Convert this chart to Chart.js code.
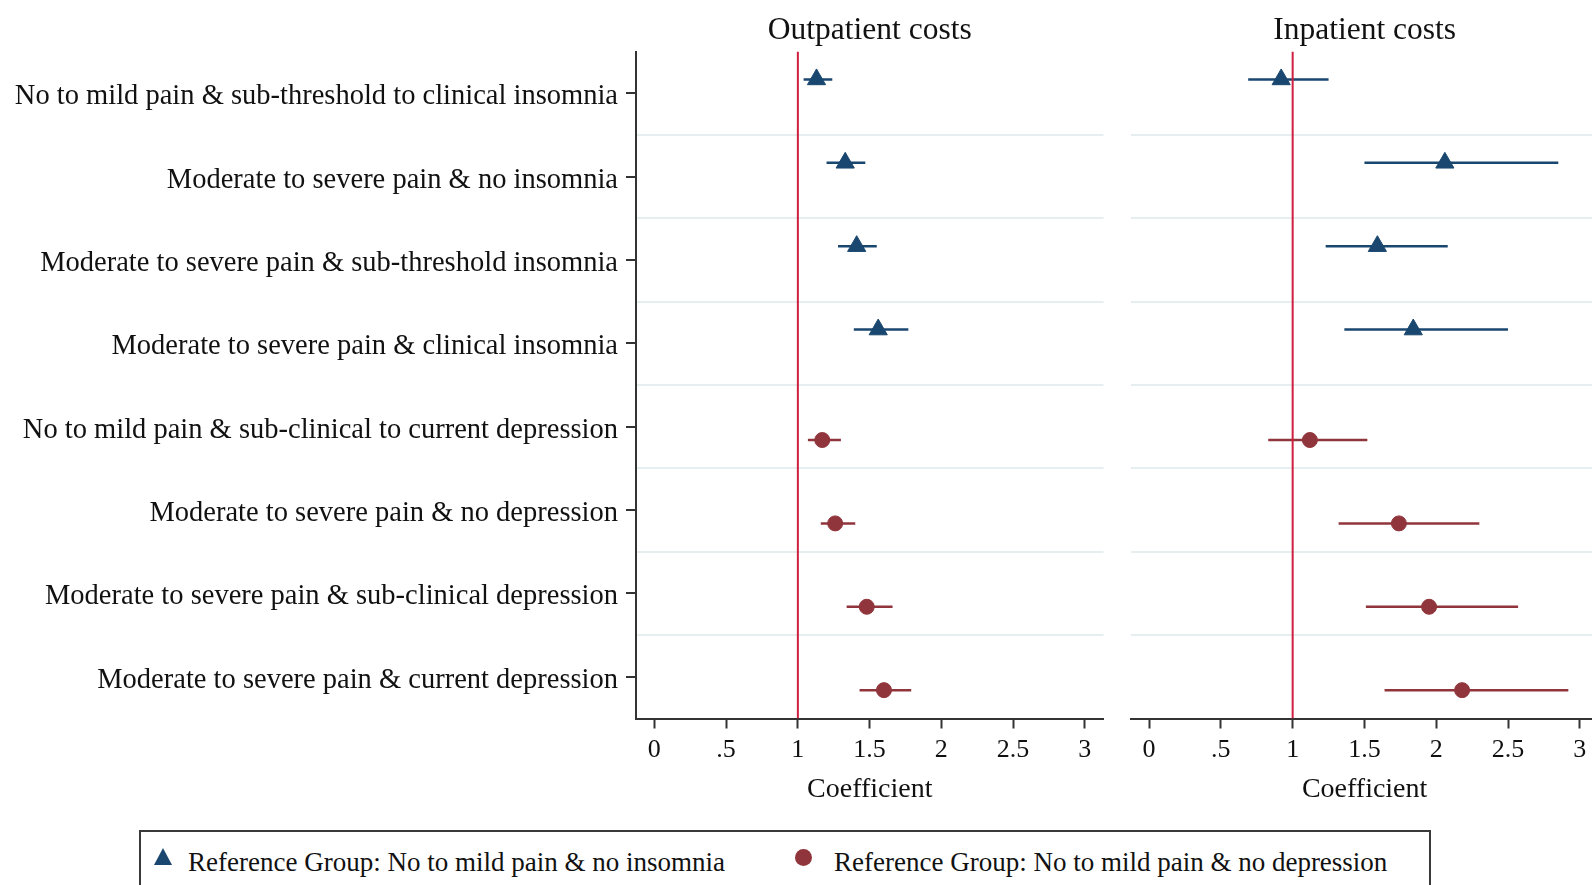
<!DOCTYPE html>
<html>
<head>
<meta charset="utf-8">
<title>Outpatient and inpatient cost coefficients</title>
<script src="https://cdn.jsdelivr.net/npm/chart.js@4.4.1/dist/chart.umd.min.js"></script>
<style>
  html, body { margin: 0; padding: 0; width: 1592px; height: 885px; overflow: hidden; background: #fff; }
  canvas { position: absolute; top: 0; }
  #outCanvas { left: 0; }
  #inCanvas { left: 1110px; }
  .leg { position: absolute; font-family: "Liberation Serif", "Times New Roman", serif; font-size: 27px; line-height: 32px; color: #111; white-space: nowrap; }
  #legendBox { position: absolute; left: 139px; top: 830px; width: 1292px; height: 90px; border: 2px solid #3a3a3a; box-sizing: border-box; }
  #legTri { position: absolute; left: 154px; top: 848px; width: 18px; height: 17px; clip-path: polygon(50% 0, 100% 100%, 0 100%); }
  #legDot { position: absolute; left: 795px; top: 849px; width: 17px; height: 17px; border-radius: 50%; }
</style>
</head>
<body>
<canvas id="outCanvas" width="1115" height="820"></canvas>
<canvas id="inCanvas" width="500" height="820"></canvas>
<div id="legendBox"></div>
<div id="legTri"></div>
<div class="leg" id="legText1" style="left:188px; top:846px;"></div>
<div id="legDot"></div>
<div class="leg" id="legText2" style="left:834px; top:846px;"></div>

<script>
// ---- data ----
const categories = [
  'No to mild pain & sub-threshold to clinical insomnia',
  'Moderate to severe pain & no insomnia',
  'Moderate to severe pain & sub-threshold insomnia',
  'Moderate to severe pain & clinical insomnia',
  'No to mild pain & sub-clinical to current depression',
  'Moderate to severe pain & no depression',
  'Moderate to severe pain & sub-clinical depression',
  'Moderate to severe pain & current depression'
];
const insomniaRows = [0, 1, 2, 3];
const depressionRows = [4, 5, 6, 7];

const xTickValues = [0, 0.5, 1, 1.5, 2, 2.5, 3];
const xTickLabels = ['0', '.5', '1', '1.5', '2', '2.5', '3'];
const referenceValue = 1;

const panelTitles = ['Outpatient costs', 'Inpatient costs'];
const axisTitle = 'Coefficient';
const legendLabels = [
  'Reference Group: No to mild pain & no insomnia',
  'Reference Group: No to mild pain & no depression'
];

// Outpatient costs
const outInsomniaCoef = [1.13, 1.33, 1.41, 1.56];
const outInsomniaLow  = [1.04, 1.20, 1.28, 1.39];
const outInsomniaHigh = [1.24, 1.47, 1.55, 1.77];
const outDepressionCoef = [1.17, 1.26, 1.48, 1.60];
const outDepressionLow  = [1.07, 1.16, 1.34, 1.43];
const outDepressionHigh = [1.30, 1.40, 1.66, 1.79];

// Inpatient costs
const inInsomniaCoef = [0.92, 2.06, 1.59, 1.84];
const inInsomniaLow  = [0.69, 1.50, 1.23, 1.36];
const inInsomniaHigh = [1.25, 2.85, 2.08, 2.50];
const inDepressionCoef = [1.12, 1.74, 1.95, 2.18];
const inDepressionLow  = [0.83, 1.32, 1.51, 1.64];
const inDepressionHigh = [1.52, 2.30, 2.57, 2.92];

// ---- styling ----
const NAVY = '#1a476f';
const MAROON = '#90353b';
const REF_RED = '#cf1f40';
const GRID = '#e6eef0';
const AXIS = '#333333';
const TEXT = '#111111';
const SERIF = '"Liberation Serif", "Times New Roman", serif';
const X_MIN = -0.128, X_MAX = 3.13;
const Y_MIN = -0.5, Y_MAX = categories.length - 0.5;

const insomniaStyle = { color: NAVY, pointStyle: 'triangle', radius: 10.5, offset: -0.165 };
const depressionStyle = { color: MAROON, pointStyle: 'circle', radius: 7.5, offset: 0.16 };

function buildDatasets(seriesList) {
  const markers = seriesList.map(s => ({
    data: s.rows.map((r, i) => ({ x: s.coef[i], y: r + s.style.offset })),
    pointStyle: s.style.pointStyle,
    pointRadius: s.style.radius,
    backgroundColor: s.style.color,
    borderColor: s.style.color,
    borderWidth: 1,
    showLine: false,
    order: 0
  }));
  const refLine = {
    data: [{ x: referenceValue, y: Y_MIN }, { x: referenceValue, y: Y_MAX }],
    showLine: true,
    borderColor: REF_RED,
    borderWidth: 2,
    pointRadius: 0,
    order: 1
  };
  const bars = [];
  seriesList.forEach(s => {
    s.rows.forEach((r, i) => {
      bars.push({
        data: [{ x: s.low[i], y: r + s.style.offset }, { x: s.high[i], y: r + s.style.offset }],
        showLine: true,
        borderColor: s.style.color,
        borderWidth: 2.5,
        pointRadius: 0,
        order: 2
      });
    });
  });
  return [...markers, refLine, ...bars];
}

function yTickList() {
  const list = [];
  for (let k = -1; k <= 2 * categories.length - 1; k++) list.push({ value: k / 2 });
  return list;
}
const isRowTick = v => Number.isInteger(v);
const isDividerTick = v => !Number.isInteger(v) && v > Y_MIN && v < Y_MAX;

function makePanel(canvasId, title, seriesList, withCategoryAxis, padding) {
  const ctx = document.getElementById(canvasId).getContext('2d');
  return new Chart(ctx, {
    type: 'scatter',
    data: { datasets: buildDatasets(seriesList) },
    options: {
      responsive: false,
      animation: false,
      events: [],
      layout: { padding },
      plugins: { legend: { display: false }, tooltip: { enabled: false } },
      scales: {
        x: {
          type: 'linear', position: 'bottom', min: X_MIN, max: X_MAX,
          afterBuildTicks: s => { s.ticks = xTickValues.map(v => ({ value: v })); },
          afterFit: s => { s.height = 101.5; },
          ticks: {
            autoSkip: false, maxRotation: 0, padding: 6, color: TEXT,
            font: { family: SERIF, size: 26 },
            callback: (v, i) => xTickLabels[i]
          },
          grid: { drawOnChartArea: false, tickLength: 10, tickWidth: 2, tickColor: AXIS },
          border: { display: true, color: AXIS, width: 2 },
          title: {
            display: true, text: axisTitle, color: TEXT,
            font: { family: SERIF, size: 28 }, padding: { top: 0, bottom: 14 }
          }
        },
        xTop: {
          type: 'linear', position: 'top', display: true, min: X_MIN, max: X_MAX,
          afterFit: s => { s.height = 51.5; },
          ticks: { display: false },
          grid: { display: false },
          border: { display: false },
          title: {
            display: true, text: title, color: TEXT,
            font: { family: SERIF, size: 31.5 }, padding: { top: 12, bottom: 0 }
          }
        },
        y: {
          type: 'linear', position: 'left', reverse: true, min: Y_MIN, max: Y_MAX,
          afterBuildTicks: s => { s.ticks = yTickList(); },
          afterFit: s => { s.width = withCategoryAxis ? 636 : 0; },
          ticks: {
            display: withCategoryAxis, autoSkip: false, padding: 8, labelOffset: 3.5, color: TEXT,
            font: { family: SERIF, size: 28.5 },
            callback: v => (isRowTick(v) ? categories[v] : '')
          },
          grid: {
            drawOnChartArea: true,
            drawTicks: withCategoryAxis,
            lineWidth: 2,
            color: c => (isDividerTick(c.tick.value) ? GRID : 'rgba(0,0,0,0)'),
            tickLength: 10, tickWidth: 2,
            tickColor: c => (isRowTick(c.tick.value) ? AXIS : 'rgba(0,0,0,0)')
          },
          border: { display: withCategoryAxis, color: AXIS, width: 2 }
        }
      }
    }
  });
}

makePanel('outCanvas', panelTitles[0], [
  { rows: insomniaRows, coef: outInsomniaCoef, low: outInsomniaLow, high: outInsomniaHigh, style: insomniaStyle },
  { rows: depressionRows, coef: outDepressionCoef, low: outDepressionLow, high: outDepressionHigh, style: depressionStyle }
], true, { left: 0, right: 8, top: 0, bottom: 0 });

makePanel('inCanvas', panelTitles[1], [
  { rows: insomniaRows, coef: inInsomniaCoef, low: inInsomniaLow, high: inInsomniaHigh, style: insomniaStyle },
  { rows: depressionRows, coef: inDepressionCoef, low: inDepressionLow, high: inDepressionHigh, style: depressionStyle }
], false, { left: 20.7, right: 8, top: 0, bottom: 0 });

// legend below both panels
document.getElementById('legTri').style.background = NAVY;
document.getElementById('legDot').style.background = MAROON;
document.getElementById('legText1').textContent = legendLabels[0];
document.getElementById('legText2').textContent = legendLabels[1];
</script>
</body>
</html>
